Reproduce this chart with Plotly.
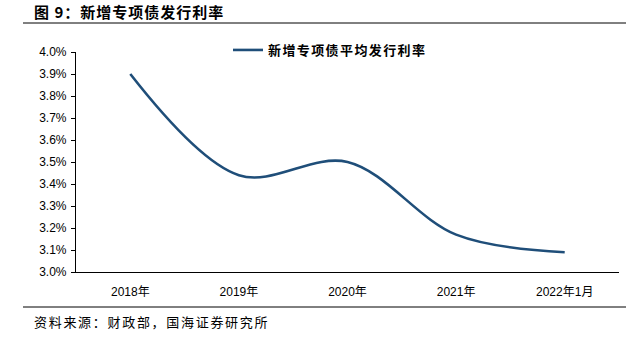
import plotly.graph_objects as go

# Average issuance rate of new special-purpose bonds (%)
categories = ["2018年", "2019年", "2020年", "2021年", "2022年1月"]
rates = [3.90, 3.44, 3.50, 3.17, 3.09]
series_name = "新增专项债平均发行利率"
y_ticks = [3.0 + 0.1 * i for i in range(11)]
y_tick_labels = [f"{v:.1f}%" for v in y_ticks]

title_text = "图 9：新增专项债发行利率"
source_text = "资料来源：财政部，国海证券研究所"

W, H = 638, 343
L, R, T, B = 76, 19, 52, 71
pw, ph = W - L - R, H - T - B


def px_x(x):
    return (x - L) / pw


def px_y(y):
    return (H - B - y) / ph


def spaced(text, px):
    return f'<span style="letter-spacing:{px}px">{text}</span>'


line_color = "#1F4E79"
cjk = "Noto Sans CJK SC"
latin = "Liberation Sans, Arial, sans-serif"

fig = go.Figure()
fig.add_trace(go.Scatter(
    x=categories, y=rates, name=spaced("<b>" + series_name + "</b>", 1.4),
    mode="lines",
    line=dict(color=line_color, width=2.6, shape="spline", smoothing=1.0),
))

fig.update_layout(
    width=W, height=H,
    margin=dict(l=L, r=R, t=T, b=B),
    paper_bgcolor="white", plot_bgcolor="white",
    showlegend=True,
    legend=dict(
        x=px_x(228), y=px_y(50), xanchor="left", yanchor="middle",
        bgcolor="rgba(0,0,0,0)", borderwidth=0,
        font=dict(family=cjk, size=13, color="#000000"),
        itemwidth=30,
    ),
    xaxis=dict(
        type="category", range=[-0.5, 4.5],
        showline=True, linecolor="#000000", linewidth=1.2,
        ticks="", showgrid=False, zeroline=False,
        tickfont=dict(family=latin + ", " + cjk, size=12, color="#000000"),
        ticklabelstandoff=8,
    ),
    yaxis=dict(
        range=[3.0, 4.0], tickvals=y_ticks, ticktext=y_tick_labels,
        showline=True, linecolor="#000000", linewidth=1.2,
        ticks="outside", ticklen=4, tickcolor="#000000", tickwidth=1,
        showgrid=False, zeroline=False, ticklabelstandoff=2,
        tickfont=dict(family=latin, size=12, color="#000000"),
    ),
    font=dict(family=latin),
)

# Title, rules and source note
fig.add_annotation(
    text=spaced("<b>" + title_text + "</b>", 1), xref="paper", yref="paper",
    x=px_x(32), y=px_y(12), xanchor="left", yanchor="middle",
    showarrow=False, font=dict(family=cjk, size=15, color="#000000"),
)
fig.add_shape(type="line", xref="paper", yref="paper",
              x0=px_x(23), x1=px_x(626), y0=px_y(23), y1=px_y(23),
              line=dict(color="#000000", width=1))
fig.add_shape(type="line", xref="paper", yref="paper",
              x0=px_x(23), x1=px_x(626), y0=px_y(307), y1=px_y(307),
              line=dict(color="#000000", width=1))
fig.add_annotation(
    text=spaced(source_text, 1.7), xref="paper", yref="paper",
    x=px_x(32), y=px_y(321), xanchor="left", yanchor="middle",
    showarrow=False, font=dict(family=cjk, size=13, color="#000000"),
)

fig.write_html("out.html")
